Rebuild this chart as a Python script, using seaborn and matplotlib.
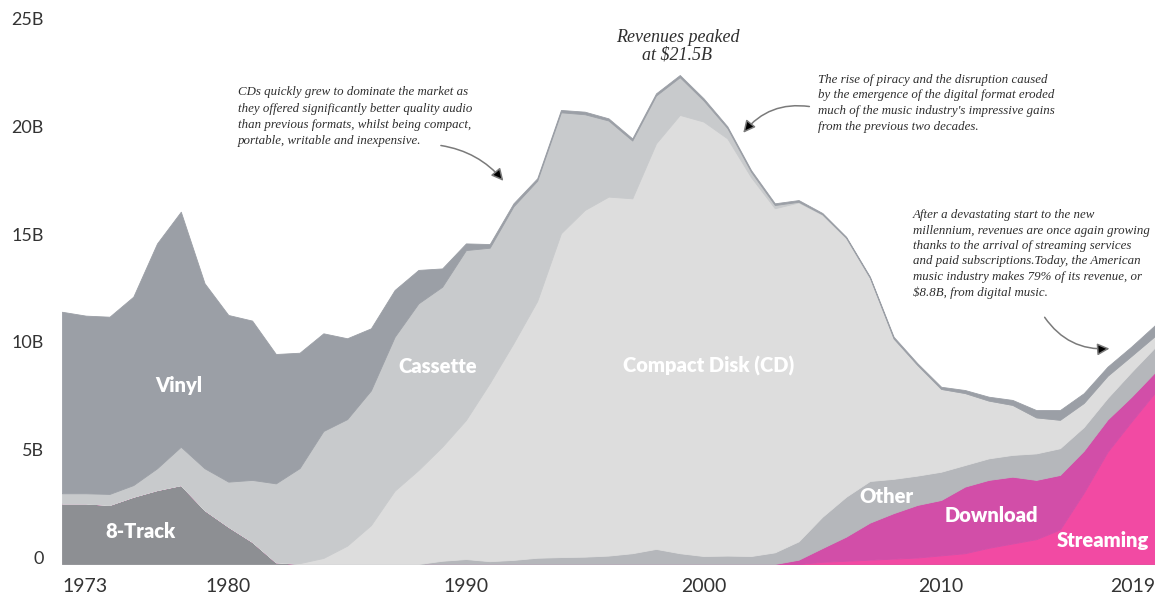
import matplotlib
matplotlib.use("Agg")
import matplotlib.pyplot as plt
import seaborn as sns
import pandas as pd

# US recorded music revenue by format, billions (inflation adjusted), 1973-2019
years = list(range(1973, 2020))

eight_track = [2.81, 2.81, 2.74, 3.12, 3.43, 3.66, 2.50, 1.73, 1.03, 0.08,
               0, 0, 0, 0, 0, 0, 0, 0, 0, 0,
               0, 0, 0, 0, 0, 0, 0, 0, 0, 0,
               0, 0, 0, 0, 0, 0, 0, 0, 0, 0,
               0, 0, 0, 0, 0, 0, 0]
streaming = [0, 0, 0, 0, 0, 0, 0, 0, 0, 0,
             0, 0, 0, 0, 0, 0, 0, 0, 0, 0,
             0, 0, 0, 0, 0, 0, 0, 0, 0, 0,
             0, 0, 0.10, 0.15, 0.20, 0.25, 0.30, 0.40, 0.50, 0.75,
             0.95, 1.15, 1.60, 3.30, 5.20, 6.60, 7.95]
download = [0, 0, 0, 0, 0, 0, 0, 0, 0, 0,
            0, 0, 0, 0, 0, 0, 0, 0, 0, 0,
            0, 0, 0, 0, 0, 0, 0, 0, 0, 0,
            0, 0.20, 0.64, 1.12, 1.72, 2.11, 2.44, 2.57, 3.09, 3.15,
            3.10, 2.75, 2.53, 1.95, 1.50, 1.15, 0.95]
other = [0, 0, 0, 0, 0, 0, 0, 0, 0, 0,
         0, 0, 0, 0, 0, 0, 0.15, 0.23, 0.13, 0.19,
         0.29, 0.32, 0.34, 0.39, 0.50, 0.70, 0.50, 0.37, 0.39, 0.37,
         0.54, 0.85, 1.45, 1.85, 1.93, 1.59, 1.36, 1.31, 1.00, 1.00,
         1.01, 1.23, 1.24, 1.10, 1.00, 1.15, 1.15]
cd = [0, 0, 0, 0, 0, 0, 0, 0, 0, 0,
      0.04, 0.28, 0.85, 1.80, 3.40, 4.36, 5.29, 6.45, 8.26, 10.05,
      11.91, 15.02, 16.08, 16.65, 16.46, 18.81, 20.33, 20.15, 19.35, 17.57,
      15.96, 15.72, 14.01, 12.00, 9.43, 6.51, 5.13, 3.84, 3.34, 2.68,
      2.32, 1.67, 1.32, 1.12, 1.03, 0.75, 0.53]
cassette = [0.47, 0.47, 0.51, 0.54, 1.01, 1.78, 1.94, 2.09, 2.87, 3.66,
            4.41, 5.89, 5.87, 6.25, 7.14, 7.73, 7.42, 7.88, 6.28, 6.35,
            5.58, 5.61, 4.44, 3.53, 2.68, 2.22, 1.75, 0.98, 0.48, 0.25,
            0.15, 0.03, 0.02, 0.01, 0, 0, 0, 0, 0, 0,
            0, 0, 0, 0, 0, 0, 0]
vinyl = [8.42, 8.24, 8.22, 8.74, 10.43, 10.90, 8.58, 7.73, 7.39, 6.00,
         5.35, 4.53, 3.75, 2.88, 2.17, 1.55, 0.85, 0.31, 0.17, 0.14,
         0.11, 0.11, 0.12, 0.10, 0.10, 0.10, 0.10, 0.10, 0.08, 0.08,
         0.08, 0.08, 0.06, 0.05, 0.05, 0.08, 0.08, 0.10, 0.14, 0.18,
         0.23, 0.34, 0.45, 0.45, 0.42, 0.43, 0.50]

# top of stack first, bottom last (seaborn stacks the last hue at the bottom)
formats = ["Vinyl", "Cassette", "Compact Disk (CD)", "Other",
           "Download", "Streaming", "8-Track"]
series = {"Vinyl": vinyl, "Cassette": cassette, "Compact Disk (CD)": cd,
          "Other": other, "Download": download, "Streaming": streaming,
          "8-Track": eight_track}
colors = {"Vinyl": "#9b9fa6", "Cassette": "#c8cacc",
          "Compact Disk (CD)": "#dddddd", "Other": "#b5b7bb",
          "Download": "#d24ea8", "Streaming": "#f24aa3",
          "8-Track": "#8d8f93"}

year_ticks = [1973, 1980, 1990, 2000, 2010, 2019]
value_ticks = [0, 5, 10, 15, 20, 25]
value_labels = ["0", "5B", "10B", "15B", "20B", "25B"]

rows = []
for fmt in formats:
    for yr, val in zip(years, series[fmt]):
        rows.append({"year": yr, "format": fmt, "revenue": val})
df = pd.DataFrame(rows)

sns.set_theme(style="white")

fig = plt.figure(figsize=(11.55, 5.97), dpi=100)
ax = fig.add_axes([62 / 1155, 33 / 597, 1093 / 1155, 26 * 21.56 / 597])

sns.histplot(data=df, x="year", weights="revenue", hue="format",
             hue_order=formats, palette=colors, multiple="stack",
             element="poly", discrete=True, alpha=1, legend=False, ax=ax)

# hide the seams between the stacked layers
for coll in ax.collections:
    coll.set_edgecolor(coll.get_facecolor())
    coll.set_linewidth(0.6)

ax.set_xlim(1973, 2019)
ax.set_ylim(0, 26)
ax.set_xlabel("")
ax.set_ylabel("")
for side in ["top", "right", "left", "bottom"]:
    ax.spines[side].set_visible(False)

ax.set_yticks(value_ticks)
ax.set_yticklabels(value_labels)
ax.set_xticks(year_ticks)
ax.set_xticklabels([str(y) for y in year_ticks])
ax.tick_params(axis="y", length=0, pad=13, labelsize=13, labelcolor="#333333")
ax.tick_params(axis="x", length=0, pad=10, labelsize=14, labelcolor="#333333")
for lab in ax.get_yticklabels():
    lab.set_verticalalignment("baseline")
    lab.set_family("Lato")
for lab in ax.get_xticklabels():
    lab.set_family("Lato")
xl = ax.get_xticklabels()
xl[0].set_horizontalalignment("left")
xl[-1].set_horizontalalignment("right")

# format names inside the areas
label_pos = {"Vinyl": (1977.9, 8.3), "8-Track": (1976.3, 1.53),
             "Cassette": (1988.8, 9.18), "Compact Disk (CD)": (2000.2, 9.18),
             "Other": (2007.7, 3.11), "Download": (2012.1, 2.27),
             "Streaming": (2016.8, 1.07)}
for name, (lx, ly) in label_pos.items():
    ax.text(lx, ly, name, color="white", fontsize=14.5, fontweight="heavy",
            family="Lato", ha="center", va="center")

note_kw = dict(family="Liberation Serif", style="italic", color="#2e2e2e")

ax.text(1998.9, 24.0, "Revenues peaked\nat $21.5B", fontsize=13,
        ha="center", va="center", linespacing=1.05, **note_kw)

ax.text(1980.4, 22.15,
        "CDs quickly grew to dominate the market as\n"
        "they offered significantly better quality audio\n"
        "than previous formats, whilst being compact,\n"
        "portable, writable and inexpensive.",
        fontsize=9.3, ha="left", va="top", linespacing=1.46, **note_kw)

ax.text(2004.8, 22.75,
        "The rise of piracy and the disruption caused\n"
        "by the emergence of the digital format eroded\n"
        "much of the music industry's impressive gains\n"
        "from the previous two decades.",
        fontsize=9.3, ha="left", va="top", linespacing=1.43, **note_kw)

ax.text(2008.8, 16.45,
        "After a devastating start to the new\n"
        "millennium, revenues are once again growing\n"
        "thanks to the arrival of streaming services\n"
        "and paid subscriptions.Today, the American\n"
        "music industry makes 79% of its revenue, or\n"
        "$8.8B, from digital music.",
        fontsize=9.3, ha="left", va="top", linespacing=1.37, **note_kw)

arrow_kw = dict(arrowstyle="-|>,head_length=0.6,head_width=0.3",
                edgecolor="#7a7a7a", facecolor="black", lw=1.1)
ax.annotate("", xy=(1991.65, 17.67), xytext=(1988.83, 19.43),
            arrowprops=dict(connectionstyle="arc3,rad=-0.2", **arrow_kw))
ax.annotate("", xy=(2001.6, 19.9), xytext=(2004.57, 21.2),
            arrowprops=dict(connectionstyle="arc3,rad=0.3", **arrow_kw))
ax.annotate("", xy=(2017.2, 10.0), xytext=(2014.29, 11.55),
            arrowprops=dict(connectionstyle="arc3,rad=0.3", **arrow_kw))

fig.savefig("out.png", dpi=100)
